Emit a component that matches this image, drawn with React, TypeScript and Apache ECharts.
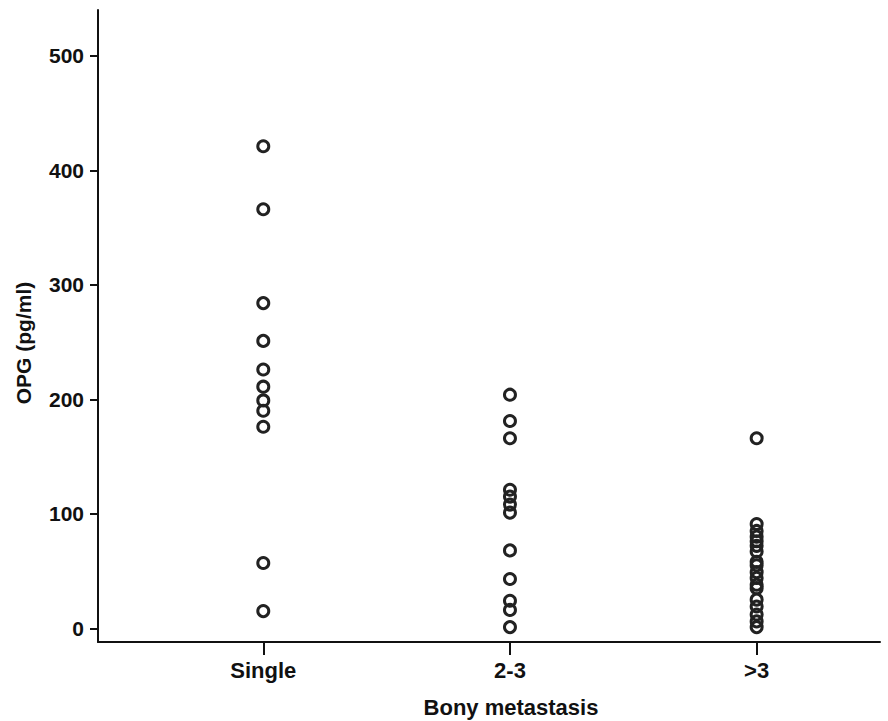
import React, { useEffect, useRef } from "react";
import * as echarts from "echarts";

const categories = ["Single", "2-3", ">3"];
const singleValues = [421, 366, 284, 251, 226, 211, 199, 190, 176, 57, 15];
const twoToThreeValues = [204, 181, 166, 121, 115, 108, 101, 68, 43, 24, 16, 1];
const moreThanThreeValues = [166, 91, 85, 80, 76, 72, 67, 58, 55, 49, 44, 38, 35, 25, 19, 12, 6, 1];
const yTicks = [0, 100, 200, 300, 400, 500];
const xName = "Bony metastasis";
const yName = "OPG (pg/ml)";

const groups = [singleValues, twoToThreeValues, moreThanThreeValues];

export default function App() {
  const ref = useRef<HTMLDivElement>(null);
  useEffect(() => {
    if (!ref.current) return;
    const chart = echarts.init(ref.current, null, { renderer: "svg" });
    const font = "'Liberation Sans', Arial, sans-serif";
    const data: number[][] = [];
    groups.forEach((vals, i) => vals.forEach((v) => data.push([i + 1, v])));
    chart.setOption({
      animation: false,
      backgroundColor: "#ffffff",
      grid: { left: 98, top: 10, right: 8, bottom: 79 },
      graphic: [
        {
          type: "text",
          x: 511,
          y: 707,
          style: {
            text: xName,
            fontFamily: font,
            fontWeight: "bold",
            fontSize: 22,
            fill: "#111",
            align: "center",
            verticalAlign: "middle",
          },
        },
        {
          type: "text",
          x: 23,
          y: 343,
          rotation: Math.PI / 2,
          style: {
            text: yName,
            fontFamily: font,
            fontWeight: "bold",
            fontSize: 21,
            fill: "#111",
            align: "center",
            verticalAlign: "middle",
          },
        },
      ],
      xAxis: {
        type: "value",
        min: 0.33,
        max: 3.5,
        splitLine: { show: false },
        axisLine: { show: true, onZero: false, lineStyle: { color: "#111", width: 2 } },
        axisTick: { show: true, length: 13, customValues: [1, 2, 3], lineStyle: { color: "#111", width: 2 } },
        axisLabel: {
          customValues: [1, 2, 3],
          margin: 17,
          fontFamily: font,
          fontWeight: "bold",
          fontSize: 22,
          color: "#111",
          formatter: (v: number) => categories[Math.round(v) - 1] ?? "",
        },
      },
      yAxis: {
        type: "value",
        min: -12,
        max: 540,
        splitLine: { show: false },
        axisLine: { show: true, onZero: false, lineStyle: { color: "#111", width: 2 } },
        axisTick: { show: true, length: 8, customValues: yTicks, lineStyle: { color: "#111", width: 2 } },
        axisLabel: {
          customValues: yTicks,
          margin: 14,
          fontFamily: font,
          fontWeight: "bold",
          fontSize: 21,
          color: "#111",
        },
      },
      series: [
        {
          type: "scatter",
          data,
          symbol: "circle",
          symbolSize: 11,
          itemStyle: { color: "rgba(0,0,0,0)", borderColor: "#222", borderWidth: 3, opacity: 1 },
        },
      ],
    });
    return () => chart.dispose();
  }, []);
  return (
    <div
      ref={ref}
      style={{ position: "fixed", left: 0, top: 0, width: 888, height: 721, background: "#fff" }}
    />
  );
}
